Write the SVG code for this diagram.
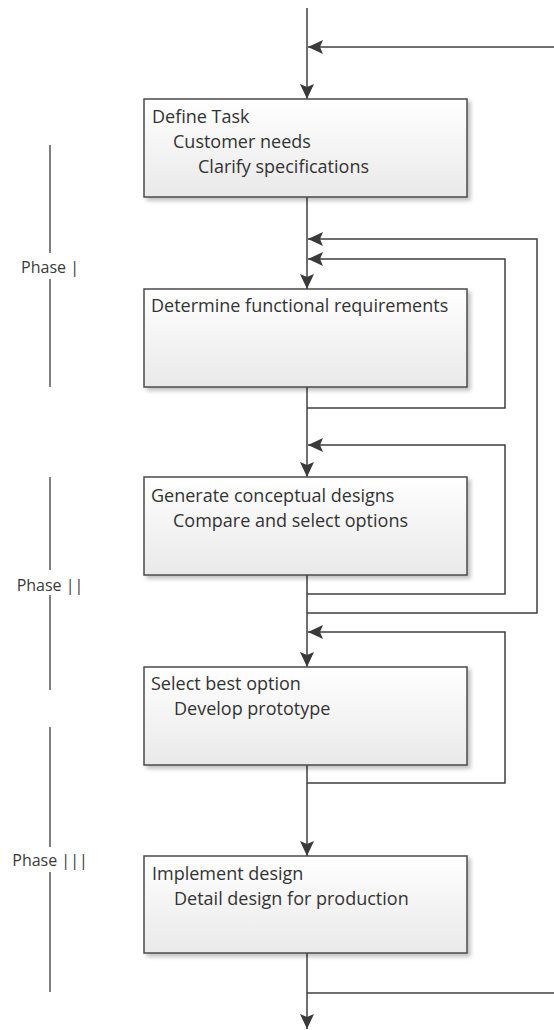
<svg xmlns="http://www.w3.org/2000/svg" width="554" height="1030" viewBox="0 0 554 1030">
<defs>
  <linearGradient id="boxfill" x1="0" y1="0" x2="0" y2="1">
    <stop offset="0" stop-color="#ffffff"/>
    <stop offset="1" stop-color="#e9e9e9"/>
  </linearGradient>
  <filter id="shadow" x="-5%" y="-5%" width="115%" height="120%">
    <feGaussianBlur in="SourceAlpha" stdDeviation="2"/>
    <feOffset dx="3" dy="3" result="b"/>
    <feComponentTransfer><feFuncA type="linear" slope="0.25"/></feComponentTransfer>
    <feMerge><feMergeNode/><feMergeNode in="SourceGraphic"/></feMerge>
  </filter>
  <marker id="arrow" markerUnits="userSpaceOnUse" markerWidth="16" markerHeight="14" refX="15" refY="7" orient="auto">
    <path d="M0,0 L15,7 L0,14 L3,7 z" fill="#3a3a3a"/>
  </marker>
</defs>
<style>
  .box { fill: url(#boxfill); stroke: #4a4a4a; stroke-width: 1.5; filter: url(#shadow); }
  .t { font-family: "Open Sans", "Liberation Sans", sans-serif; font-size: 18px; fill: #333333; }
  .ph { font-family: "Open Sans", "Liberation Sans", sans-serif; font-size: 16px; fill: #3a3a3a; text-anchor: middle; }
  .c { fill: none; stroke: #3f3f3f; stroke-width: 1.5; }
  .ca { fill: none; stroke: #3f3f3f; stroke-width: 1.5; marker-end: url(#arrow); }
  .pl { stroke: #555; stroke-width: 1.5; }
</style>

<g id="phases">
  <g id="phase1">
    <line class="pl" x1="50" y1="145" x2="50" y2="253"/>
    <text class="ph" x="50" y="273">Phase |</text>
    <line class="pl" x1="50" y1="279" x2="50" y2="387"/>
  </g>
  <g id="phase2">
    <line class="pl" x1="50" y1="477" x2="50" y2="570"/>
    <text class="ph" x="50" y="591">Phase ||</text>
    <line class="pl" x1="50" y1="595" x2="50" y2="690"/>
  </g>
  <g id="phase3">
    <line class="pl" x1="50" y1="727" x2="50" y2="847"/>
    <text class="ph" x="50" y="866">Phase |||</text>
    <line class="pl" x1="50" y1="872" x2="50" y2="992"/>
  </g>
</g>

<g id="connectors">
  <line class="ca" x1="307" y1="8" x2="307" y2="99"/>
  <line class="ca" x1="554" y1="47" x2="308" y2="47"/>
  <line class="ca" x1="307" y1="197" x2="307" y2="289"/>
  <path class="ca" d="M307,613 H537 V239 H308"/>
  <path class="ca" d="M307,408 H505 V259 H308"/>
  <line class="ca" x1="307" y1="387" x2="307" y2="477"/>
  <path class="ca" d="M307,594 H505 V445 H308"/>
  <line class="ca" x1="307" y1="575" x2="307" y2="667"/>
  <path class="ca" d="M307,783 H505 V632 H308"/>
  <line class="ca" x1="307" y1="765" x2="307" y2="856"/>
  <line class="ca" x1="307" y1="953" x2="307" y2="1029"/>
  <path class="c" d="M307,993 H554"/>
</g>

<g id="node-define-task">
  <rect class="box" x="144" y="99" width="323" height="98"/>
  <text class="t" x="152" y="123">Define Task</text>
  <text class="t" x="173" y="148">Customer needs</text>
  <text class="t" x="198" y="173">Clarify specifications</text>
</g>
<g id="node-functional-requirements">
  <rect class="box" x="144" y="289" width="323" height="98"/>
  <text class="t" x="151" y="312">Determine functional requirements</text>
</g>
<g id="node-conceptual-designs">
  <rect class="box" x="144" y="477" width="323" height="98"/>
  <text class="t" x="151" y="502">Generate conceptual designs</text>
  <text class="t" x="173" y="527">Compare and select options</text>
</g>
<g id="node-best-option">
  <rect class="box" x="144" y="667" width="323" height="98"/>
  <text class="t" x="151" y="690">Select best option</text>
  <text class="t" x="174" y="715">Develop prototype</text>
</g>
<g id="node-implement">
  <rect class="box" x="144" y="856" width="323" height="97"/>
  <text class="t" x="152" y="880">Implement design</text>
  <text class="t" x="174" y="905">Detail design for production</text>
</g>
</svg>
